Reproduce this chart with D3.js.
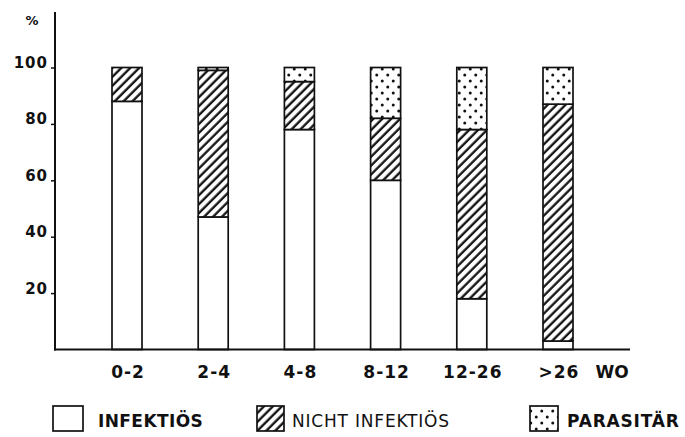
<!DOCTYPE html>
<html>
<head>
<meta charset="utf-8">
<script src="https://cdn.jsdelivr.net/npm/d3@7/dist/d3.min.js"></script>
<style>
  html, body { margin: 0; padding: 0; background: #fff; }
  svg { display: block; }
  text { font-family: "DejaVu Sans", "Liberation Sans", Arial, sans-serif; fill: #111; }
</style>
</head>
<body>
<svg id="chart" width="685" height="437"></svg>
<script>
// ---- data ----
const categories = ["0-2", "2-4", "4-8", "8-12", "12-26", ">26"];
const infektios = [88, 47, 78, 60, 18, 3];
const nichtInfektios = [12, 52, 17, 22, 60, 84];
const parasitar = [0, 1, 5, 18, 22, 13];
const yTicks = [20, 40, 60, 80, 100];
const seriesKeys = ["INFEKTIÖS", "NICHT INFEKTIÖS", "PARASITÄR"];
const unitLabel = "WO";
const yLabel = "%";

const rows = categories.map((c, i) => ({
  cat: c,
  "INFEKTIÖS": infektios[i],
  "NICHT INFEKTIÖS": nichtInfektios[i],
  "PARASITÄR": parasitar[i]
}));

const svg = d3.select("#chart");
const ink = "#111";

// patterns
const defs = svg.append("defs");
const hatch = defs.append("pattern")
  .attr("id", "hatch").attr("patternUnits", "userSpaceOnUse")
  .attr("width", 6.3).attr("height", 6.3)
  .attr("patternTransform", "rotate(45)");
hatch.append("rect").attr("width", 6.3).attr("height", 6.3).attr("fill", "#fff");
hatch.append("line").attr("x1", 1.5).attr("y1", 0).attr("x2", 1.5).attr("y2", 6.3)
  .attr("stroke", ink).attr("stroke-width", 2.3);

const dots = defs.append("pattern")
  .attr("id", "dots").attr("patternUnits", "userSpaceOnUse")
  .attr("width", 11).attr("height", 12);
dots.append("rect").attr("width", 11).attr("height", 12).attr("fill", "#fff");
dots.append("circle").attr("cx", 2.75).attr("cy", 3).attr("r", 1.5).attr("fill", ink);
dots.append("circle").attr("cx", 8.25).attr("cy", 9).attr("r", 1.5).attr("fill", ink);

const fills = {
  "INFEKTIÖS": "#fff",
  "NICHT INFEKTIÖS": "url(#hatch)",
  "PARASITÄR": "url(#dots)"
};

// scales
const x = d3.scalePoint().domain(categories).range([127, 558]);
const y = d3.scaleLinear().domain([0, 100]).range([349.5, 67.5]);
const barW = 30;

// bars
const stacked = d3.stack().keys(seriesKeys)(rows);
svg.append("g").selectAll("g").data(stacked).join("g")
  .attr("fill", d => fills[d.key])
  .selectAll("rect").data(d => d.filter(s => s[1] - s[0] > 0)).join("rect")
  .attr("x", d => x(d.data.cat) - barW / 2)
  .attr("y", d => y(d[1]))
  .attr("width", barW)
  .attr("height", d => y(d[0]) - y(d[1]))
  .attr("stroke", ink).attr("stroke-width", 1.7);

// y axis line & baseline
svg.append("line").attr("x1", 55).attr("x2", 55).attr("y1", 12).attr("y2", y(0) + 1)
  .attr("stroke", ink).attr("stroke-width", 2);
svg.append("line").attr("x1", 54).attr("x2", 630).attr("y1", y(0)).attr("y2", y(0))
  .attr("stroke", ink).attr("stroke-width", 2);

// y axis ticks
const yAxis = svg.append("g").attr("transform", "translate(55,0)")
  .call(d3.axisLeft(y).tickValues(yTicks).tickSize(4).tickFormat(d3.format("d")));
yAxis.select(".domain").remove();
yAxis.selectAll(".tick line").attr("stroke", ink).attr("stroke-width", 1.5);
yAxis.selectAll(".tick text")
  .attr("x", -7).attr("dy", "0")
  .style("font-size", "15px").style("font-weight", "bold")
  .style("letter-spacing", "1px").attr("fill", ink)
  .attr("font-family", null);

svg.append("text").attr("x", 32).attr("y", 25).attr("text-anchor", "middle")
  .style("font-size", "13px").style("font-weight", "bold").text(yLabel);

// x axis labels
const xAxis = svg.append("g").attr("transform", `translate(0,${y(0)})`)
  .call(d3.axisBottom(x).tickSize(0).tickPadding(0));
xAxis.select(".domain").remove();
xAxis.selectAll(".tick text")
  .attr("y", 28).attr("dy", "0").attr("dx", "0.5")
  .style("font-size", "17px").style("font-weight", "bold")
  .style("letter-spacing", "1px").attr("fill", ink)
  .attr("font-family", null);

svg.append("text").attr("x", 612).attr("y", y(0) + 28).attr("text-anchor", "middle")
  .style("font-size", "17px").style("font-weight", "bold")
  .text(unitLabel);

// legend
const legendItems = [
  { key: seriesKeys[0], bx: 53, bw: 30, tx: 98, weight: "bold", ls: 0.4 },
  { key: seriesKeys[1], bx: 257, bw: 27, tx: 292, weight: "normal", ls: 0.8 },
  { key: seriesKeys[2], bx: 530, bw: 28, tx: 567, weight: "bold", ls: 0.8 }
];
const lg = svg.append("g");
legendItems.forEach(it => {
  lg.append("rect").attr("x", it.bx).attr("y", 406).attr("width", it.bw).attr("height", 25)
    .attr("fill", fills[it.key]).attr("stroke", ink).attr("stroke-width", 1.7);
  lg.append("text").attr("x", it.tx).attr("y", 427)
    .style("font-size", "17px").style("font-weight", it.weight)
    .style("letter-spacing", it.ls + "px").text(it.key);
});
</script>
</body>
</html>
